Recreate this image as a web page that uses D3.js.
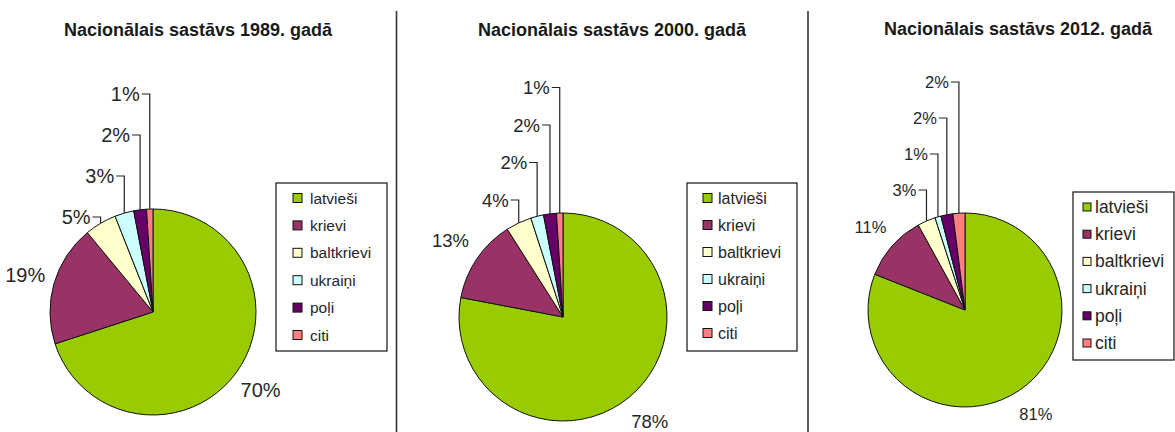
<!DOCTYPE html>
<html><head><meta charset="utf-8">
<script src="https://cdn.jsdelivr.net/npm/d3@7"></script>
<style>
html,body{margin:0;padding:0;background:#fff;}
svg{display:block;font-family:"Liberation Sans",Arial,sans-serif;}
</style></head>
<body><svg id="c" width="1175" height="432"></svg>
<script>
// ---- data ----
const categories = ["latvieši","krievi","baltkrievi","ukraiņi","poļi","citi"];
const years = ["1989","2000","2012"];
const values1989 = [70,19,5,3,2,1];
const values2000 = [78,13,4,2,2,1];
const values2012 = [81,11,3,1,2,2];
const colors = ["#99cc00","#993366","#ffffcc","#ccffff","#660066","#ff8080"];
const titlePrefix = "Nacionālais sastāvs ";
const titleSuffix = ". gadā";

// ---- layout ----
const panels = [
  {values: values1989, year: years[0], cx:153, cy:312, r:103, titleX:198, titleY:36,
   labelFont:20, stackStart:8, stackStep:41, bigOff:30,
   legend:{x:276, y:183, w:111, h:168, sw:9, swX:293, textX:310, row0:198, step:27.4, font:15.5}},
  {values: values2000, year: years[1], cx:563, cy:317, r:104, titleX:612, titleY:36,
   labelFont:18.5, stackStart:-13, stackStep:37.5, bigOff:32,
   legend:{x:687, y:183, w:110, h:168, sw:9, swX:703, textX:718, row0:198, step:27, font:16}},
  {values: values2012, year: years[2], cx:965, cy:310, r:97, titleX:1018, titleY:35,
   labelFont:16.5, stackStart:-23, stackStep:36, bigOff:29,
   legend:{x:1073, y:192, w:101, h:168, sw:8, swX:1083, textX:1095, row0:207, step:27.2, font:17.5}}
];
const separators = [396.5, 808];

const svg = d3.select("#c");
const pie = d3.pie().sort(null).value(d => d).startAngle(0).endAngle(2*Math.PI);
const textColor = "#262626";

separators.forEach(x => {
  svg.append("line").attr("x1", x).attr("x2", x).attr("y1", 11).attr("y2", 432)
    .attr("stroke", "#333").attr("stroke-width", 1.6);
});

panels.forEach(p => {
  const g = svg.append("g");
  g.append("text").attr("x", p.titleX).attr("y", p.titleY).attr("text-anchor", "middle")
    .attr("font-weight", "bold").attr("font-size", 18).attr("fill", "#1a1a1a")
    .text(titlePrefix + p.year + titleSuffix);

  const arcs = pie(p.values);
  const arc = d3.arc().innerRadius(0).outerRadius(p.r);
  const pg = g.append("g").attr("transform", `translate(${p.cx},${p.cy})`);
  pg.selectAll("path").data(arcs).join("path")
    .attr("d", arc).attr("fill", (d,i) => colors[i])
    .attr("stroke", "#111").attr("stroke-width", 1);

  const fmt = v => v + "%";
  arcs.forEach((d, i) => {
    const a = (d.startAngle + d.endAngle) / 2;
    if (i < 2) {
      const rr = p.r + p.bigOff;
      g.append("text").attr("x", p.cx + rr*Math.sin(a)).attr("y", p.cy - rr*Math.cos(a))
        .attr("text-anchor", "middle").attr("dominant-baseline", "central")
        .attr("font-size", p.labelFont).attr("fill", textColor).text(fmt(d.data));
    } else {
      const k = i - 2;
      const ax = p.cx + p.r*Math.sin(a), ay = p.cy - p.r*Math.cos(a);
      const ly = p.cy - p.r + p.stackStart - k*p.stackStep;
      g.append("text").attr("x", ax - 10).attr("y", ly)
        .attr("text-anchor", "end").attr("dominant-baseline", "central")
        .attr("font-size", p.labelFont).attr("fill", textColor).text(fmt(d.data));
      g.append("path").attr("d", d3.line()([[ax - 8, ly], [ax, ly], [ax, ay]]))
        .attr("fill", "none").attr("stroke", "#222").attr("stroke-width", 1.2);
    }
  });

  const L = p.legend;
  g.append("rect").attr("x", L.x).attr("y", L.y).attr("width", L.w).attr("height", L.h)
    .attr("fill", "#fff").attr("stroke", "#111").attr("stroke-width", 1.2);
  categories.forEach((c, i) => {
    const y = L.row0 + i*L.step;
    g.append("rect").attr("x", L.swX).attr("y", y - L.sw/2).attr("width", L.sw).attr("height", L.sw)
      .attr("fill", colors[i]).attr("stroke", "#111").attr("stroke-width", 1);
    g.append("text").attr("x", L.textX).attr("y", y).attr("dominant-baseline", "central")
      .attr("font-size", L.font).attr("fill", textColor).text(c);
  });
});
</script></body></html>
